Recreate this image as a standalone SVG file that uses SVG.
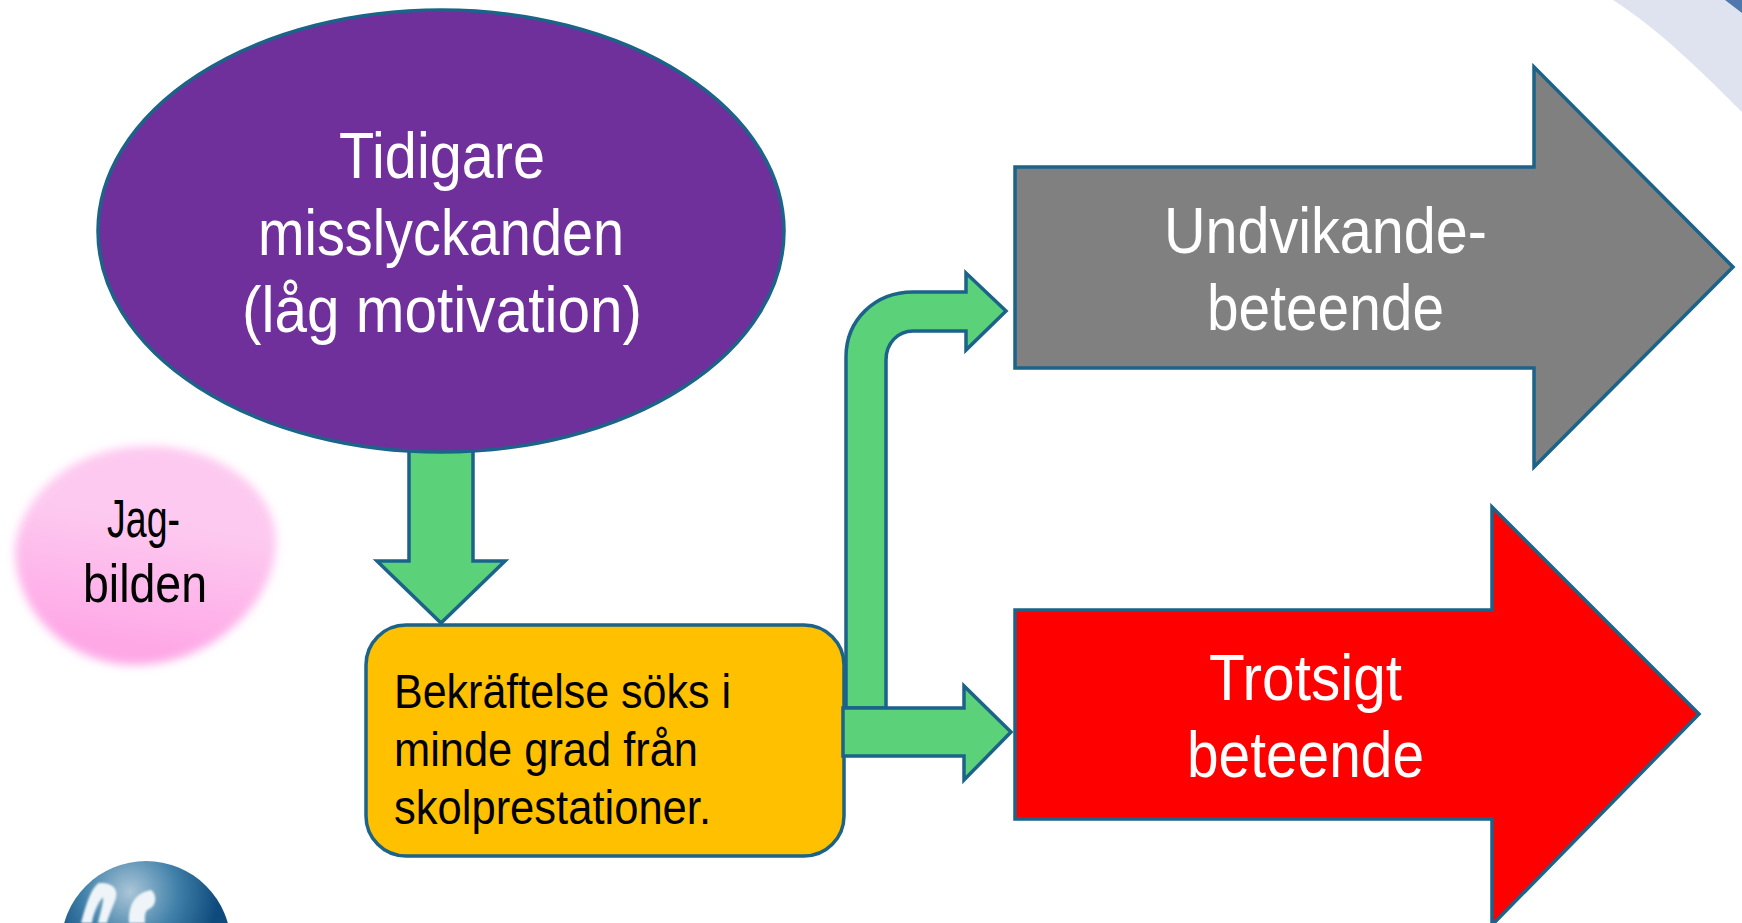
<svg xmlns="http://www.w3.org/2000/svg" width="1742" height="923" viewBox="0 0 1742 923">
<style>
.s{stroke:#1b6389;stroke-width:3.500;stroke-linejoin:miter}
.g{fill:#5bd27a}
text{font-family:"Liberation Sans",Arial,sans-serif;}
.w{fill:#fff;font-size:64px}
.b{fill:#000;font-size:48px}
.j{fill:#000;font-size:53px}
</style>
<defs>
<filter id="blur" x="-20%" y="-20%" width="140%" height="140%"><feGaussianBlur stdDeviation="5"/></filter>
<filter id="blur2" x="-20%" y="-20%" width="140%" height="140%"><feGaussianBlur stdDeviation="1.200"/></filter>
<linearGradient id="pink" x1="0.6" y1="0" x2="0.4" y2="1"><stop offset="0.35" stop-color="#fdc9f0"/><stop offset="0.9" stop-color="#fea8e6"/></linearGradient>
<radialGradient id="sphere" gradientUnits="userSpaceOnUse" cx="130" cy="892" r="88"><stop offset="0" stop-color="#aac6d8"/><stop offset="0.55" stop-color="#3f7fa8"/><stop offset="1" stop-color="#0f4a7c"/></radialGradient>
</defs>
<rect width="1742" height="923" fill="#fff"/>
<g id="corner">
<path d="M1613 0C1660 30 1705 75 1742 112V0Z" fill="#dfe3f0"/>
<path d="M1725 0L1742 13V0Z" fill="#4f79ad"/>
</g>
<g id="logo">
<circle cx="146" cy="946" r="85" fill="url(#sphere)"/>
<path d="M81 923C86 905 91 888 99 883C112 882 120 889 115 901C111 911 108 918 107 923H98C100 914 104 902 103 897C98 903 93 914 92 923Z M129 923C128 905 135 893 151 890C157 894 157 906 149 909C144 911 145 918 145 923Z" fill="#eef4f8" filter="url(#blur2)"/>
</g>
<g id="self-image">
<path d="M15 550C17 508 60 446 150 446C217 446 275 488 276 540C277 602 212 665 135 665C68 665 15 612 15 550Z" fill="url(#pink)" filter="url(#blur)"/>
<text class="j" x="107" y="537" textLength="73" lengthAdjust="spacingAndGlyphs">Jag-</text>
<text class="j" x="83" y="602" textLength="124" lengthAdjust="spacingAndGlyphs">bilden</text>
</g>
<g id="connectors">
<path id="conn-down" class="s g" d="M409 450H473V561H505L441 623L377 561H409Z"/>
<path id="conn-bent" class="s g" d="M846 708V357C846 320 875 292 913 292H966V273L1006 311L966 350V331H913C898 331 886 343 886 360V708Z"/>
</g>
<g id="top-node"><ellipse class="s" cx="441" cy="231" rx="343" ry="221" fill="#70309c"/>
<text class="w" x="339" y="178" textLength="206" lengthAdjust="spacingAndGlyphs">Tidigare</text>
<text class="w" x="258" y="255" textLength="366" lengthAdjust="spacingAndGlyphs">misslyckanden</text>
<text class="w" x="242" y="332" textLength="400" lengthAdjust="spacingAndGlyphs">(låg motivation)</text>
</g>
<g id="confirm-node"><rect class="s" x="366" y="625" width="478" height="231" rx="40" fill="#ffc000"/>
<text class="b" x="394" y="708" textLength="337" lengthAdjust="spacingAndGlyphs">Bekräftelse söks i</text>
<text class="b" x="394" y="766" textLength="304" lengthAdjust="spacingAndGlyphs">minde grad från</text>
<text class="b" x="394" y="824" textLength="317" lengthAdjust="spacingAndGlyphs">skolprestationer.</text>
</g>
<g id="conn-straight-g"><path id="conn-straight" class="s g" d="M843 708H964V686L1011 732L964 780V756H843Z"/></g>
<g id="avoid-node"><path class="s" d="M1015 167H1534V67L1733 267L1534 467V368H1015Z" fill="#808080"/>
<text class="w" x="1164" y="253" textLength="323" lengthAdjust="spacingAndGlyphs">Undvikande-</text>
<text class="w" x="1207" y="330" textLength="237" lengthAdjust="spacingAndGlyphs">beteende</text>
</g>
<g id="defiance-node"><path class="s" d="M1015 610H1492V507L1699 714L1492 925V819H1015Z" fill="#f00"/>
<text class="w" x="1209" y="700" textLength="193" lengthAdjust="spacingAndGlyphs">Trotsigt</text>
<text class="w" x="1187" y="777" textLength="237" lengthAdjust="spacingAndGlyphs">beteende</text>
</g>
</svg>
